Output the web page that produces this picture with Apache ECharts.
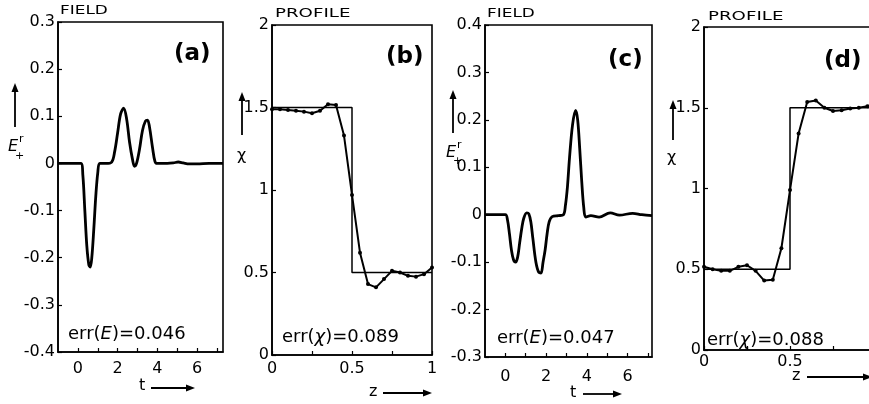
<!DOCTYPE html>
<html><head><meta charset="utf-8">
<script src="https://cdn.jsdelivr.net/npm/echarts@6/dist/echarts.min.js"></script>
<style>html,body{margin:0;padding:0;background:#fff}#c{width:869px;height:404px}</style>
</head><body><div id="c"></div>
<script>
// Panel (a): reflected field vs time
const tA = [-1, 0.15, 0.25, 0.35, 0.45, 0.55, 0.62, 0.7, 0.8, 0.9, 1.0, 1.1, 1.4, 1.7, 1.85, 2.0, 2.15, 2.3, 2.45, 2.6, 2.75, 2.85, 2.95, 3.1, 3.25, 3.4, 3.5, 3.6, 3.75, 3.88, 4.0, 4.5, 4.8, 5.05, 5.3, 5.6, 6.0, 6.6, 7.3];
const eA = [0, 0, -0.025, -0.1, -0.175, -0.215, -0.22, -0.2, -0.14, -0.07, -0.02, 0, 0, 0.003, 0.025, 0.065, 0.105, 0.117, 0.095, 0.045, 0.008, -0.006, 0, 0.03, 0.07, 0.09, 0.092, 0.078, 0.035, 0.004, 0, 0, 0.001, 0.003, 0.001, -0.001, -0.001, 0, 0];
// Panel (c): reflected field vs time
const tC = [-1, 0, 0.1, 0.2, 0.3, 0.4, 0.5, 0.6, 0.7, 0.8, 0.9, 1.05, 1.15, 1.25, 1.35, 1.5, 1.65, 1.75, 1.85, 1.95, 2.05, 2.15, 2.3, 2.6, 2.85, 2.95, 3.05, 3.15, 3.3, 3.45, 3.55, 3.65, 3.75, 3.85, 3.95, 4.2, 4.6, 5.15, 5.6, 6.25, 6.7, 7.2];
const eC = [0, 0, -0.01, -0.04, -0.075, -0.095, -0.1, -0.09, -0.06, -0.03, -0.008, 0.004, 0.002, -0.015, -0.05, -0.1, -0.122, -0.123, -0.1, -0.075, -0.04, -0.015, -0.004, -0.002, 0, 0.02, 0.06, 0.12, 0.19, 0.22, 0.2, 0.14, 0.07, 0.015, -0.005, -0.002, -0.005, 0.004, -0.001, 0.003, 0, -0.002];
// Profiles: reconstructed chi at sample depths z
const zProf = [0, 0.05, 0.1, 0.15, 0.2, 0.25, 0.3, 0.35, 0.4, 0.45, 0.5, 0.55, 0.6, 0.65, 0.7, 0.75, 0.8, 0.85, 0.9, 0.95, 1.0];
const chiB = [1.49, 1.49, 1.485, 1.48, 1.475, 1.465, 1.48, 1.52, 1.515, 1.33, 0.97, 0.62, 0.43, 0.41, 0.46, 0.51, 0.5, 0.48, 0.475, 0.49, 0.53];
const chiD = [0.515, 0.5, 0.49, 0.49, 0.515, 0.525, 0.49, 0.43, 0.435, 0.63, 0.99, 1.34, 1.535, 1.545, 1.5, 1.48, 1.485, 1.495, 1.5, 1.51, 1.52];
// True step profiles
const stepZ = [0, 0.5, 0.5, 1];
const stepChiB = [1.5, 1.5, 0.5, 0.5];
const stepChiD = [0.5, 0.5, 1.5, 1.5];
// Tick values / labels
const tTicks = [0, 1, 2, 3, 4, 5, 6, 7];
const tLabels = [0, 2, 4, 6];
const yTicksA = [-0.4, -0.3, -0.2, -0.1, 0, 0.1, 0.2, 0.3];
const yTicksC = [-0.3, -0.2, -0.1, 0, 0.1, 0.2, 0.3, 0.4];
const zTicks = [0, 0.25, 0.5, 0.75, 1];
const zLabels = [0, 0.5, 1];
const chiTicks = [0, 0.5, 1, 1.5, 2];
const panelTitles = ['FIELD', 'PROFILE', 'FIELD', 'PROFILE'];
const panelTags = ['(a)', '(b)', '(c)', '(d)'];
const errTexts = [['E', '0.046'], ['χ', '0.089'], ['E', '0.047'], ['χ', '0.088']];

const FONT = 'DejaVu Sans';
const zip = (a, b) => a.map((v, i) => [v, b[i]]);

function xAx(g, min, max, ticks, labels, margin) {
  return {type: 'value', gridIndex: g, min, max,
    axisLine: {show: true, onZero: false, lineStyle: {color: '#000', width: 1.6}},
    axisTick: {show: true, inside: true, length: 4, customValues: ticks, lineStyle: {color: '#000', width: 1.2}},
    axisLabel: {customValues: labels, color: '#000', fontSize: 16, fontFamily: FONT, margin: margin},
    splitLine: {show: false}};
}
function yAx(g, min, max, ticks) {
  return {type: 'value', gridIndex: g, min, max,
    axisLine: {show: true, onZero: false, lineStyle: {color: '#000', width: 1.6}},
    axisTick: {show: true, inside: true, length: 4, customValues: ticks, lineStyle: {color: '#000', width: 1.2}},
    axisLabel: {customValues: ticks, color: '#000', fontSize: 16, fontFamily: FONT, margin: 3},
    splitLine: {show: false}};
}
const gridStyle = {show: true, borderColor: '#000', borderWidth: 1.6, backgroundColor: 'transparent', containLabel: false, outerBoundsMode: 'none'};

function arrow(x1, y1, x2, y2) {
  const dx = x2 - x1, dy = y2 - y1, L = Math.hypot(dx, dy);
  const ux = dx / L, uy = dy / L, hl = 9, hw = 3.5;
  const bx = x2 - ux * hl, by = y2 - uy * hl;
  return [
    {type: 'line', shape: {x1, y1, x2: bx, y2: by}, style: {stroke: '#000', lineWidth: 1.8}},
    {type: 'polygon', shape: {points: [[x2, y2], [bx - uy * hw, by + ux * hw], [bx + uy * hw, by - ux * hw]]}, style: {fill: '#000'}}
  ];
}
function txt(x, y, text, size, extra, sx) {
  const el = {type: 'text', x, y, style: Object.assign({text, fontSize: size, fontFamily: FONT, fill: '#000', verticalAlign: 'middle'}, extra || {})};
  if (sx) el.scaleX = sx;
  return el;
}
function errTxt(x, y, sym, val) {
  return {type: 'text', x, y, style: {
    text: '{n|err(}{i|' + sym + '}{n|)=' + val + '}',
    verticalAlign: 'middle',
    rich: {n: {fontSize: 18, fontFamily: FONT, fill: '#000'}, i: {fontSize: 18, fontFamily: FONT, fontStyle: 'italic', fill: '#000'}}
  }};
}

const grids = [
  Object.assign({left: 58, top: 22, width: 165, height: 330}, gridStyle),
  Object.assign({left: 272, top: 25, width: 160, height: 330}, gridStyle),
  Object.assign({left: 485, top: 25, width: 167, height: 332}, gridStyle),
  Object.assign({left: 704, top: 27, width: 172, height: 323}, gridStyle)
];

const lineS = (g, data, smooth) => ({type: 'line', xAxisIndex: g, yAxisIndex: g, data, smooth: smooth,
  showSymbol: false, lineStyle: {color: '#000', width: 2.8}, silent: true, animation: false});
const dotS = (g, data) => ({type: 'line', xAxisIndex: g, yAxisIndex: g, data, smooth: false,
  showSymbol: true, symbol: 'circle', symbolSize: 4, itemStyle: {color: '#000'}, lineStyle: {color: '#000', width: 2}, silent: true, animation: false});
const stepS = (g, data) => ({type: 'line', xAxisIndex: g, yAxisIndex: g, data, showSymbol: false,
  lineStyle: {color: '#000', width: 1.5}, silent: true, animation: false});

let graphics = [];
graphics.push(txt(60, 11, panelTitles[0], 13, null, 1.3));
graphics.push(txt(275, 14, panelTitles[1], 13, null, 1.4));
graphics.push(txt(487, 14, panelTitles[2], 13, null, 1.3));
graphics.push(txt(708, 17, panelTitles[3], 13, null, 1.4));
graphics.push(txt(174, 54, panelTags[0], 23, {fontWeight: 'bold'}));
graphics.push(txt(386, 57, panelTags[1], 23, {fontWeight: 'bold'}));
graphics.push(txt(608, 60, panelTags[2], 23, {fontWeight: 'bold'}));
graphics.push(txt(824, 61, panelTags[3], 23, {fontWeight: 'bold'}));
graphics.push(errTxt(68, 334, errTexts[0][0], errTexts[0][1]));
graphics.push(errTxt(282, 337, errTexts[1][0], errTexts[1][1]));
graphics.push(errTxt(497, 338, errTexts[2][0], errTexts[2][1]));
graphics.push(errTxt(707, 340, errTexts[3][0], errTexts[3][1]));
// y-axis names
graphics = graphics.concat(arrow(15, 127, 15, 83));
graphics.push(txt(8, 147, 'E', 16, {fontStyle: 'italic'}));
graphics.push(txt(19, 139, 'r', 11));
graphics.push(txt(15, 156, '+', 11));
graphics = graphics.concat(arrow(242, 135, 242, 92));
graphics.push(txt(237, 156, 'χ', 16));
graphics = graphics.concat(arrow(453, 133, 453, 90));
graphics.push(txt(446, 153, 'E', 16, {fontStyle: 'italic'}));
graphics.push(txt(457, 145, 'r', 11));
graphics.push(txt(453, 161, '+', 11));
graphics = graphics.concat(arrow(673, 140, 673, 100));
graphics.push(txt(667, 158, 'χ', 16));
// x-axis names
graphics.push(txt(139, 386, 't', 16));
graphics = graphics.concat(arrow(151, 388, 195, 388));
graphics.push(txt(369, 392, 'z', 16));
graphics = graphics.concat(arrow(383, 393, 432, 393));
graphics.push(txt(570, 393, 't', 16));
graphics = graphics.concat(arrow(583, 394, 622, 394));
graphics.push(txt(792, 376, 'z', 16));
graphics = graphics.concat(arrow(807, 377, 872, 377));

const option = {
  animation: false,
  backgroundColor: '#fff',
  grid: grids,
  xAxis: [
    xAx(0, -1, 7.3, tTicks, tLabels, 9),
    xAx(1, 0, 1, zTicks, zLabels, 6),
    xAx(2, -1, 7.2, tTicks, tLabels, 12),
    xAx(3, 0, 1, zTicks, zLabels, 4)
  ],
  yAxis: [
    yAx(0, -0.4, 0.3, yTicksA),
    yAx(1, 0, 2, chiTicks),
    yAx(2, -0.3, 0.4, yTicksC),
    yAx(3, 0, 2, chiTicks)
  ],
  series: [
    lineS(0, zip(tA, eA), 0.35),
    stepS(1, zip(stepZ, stepChiB)),
    dotS(1, zip(zProf, chiB)),
    lineS(2, zip(tC, eC), 0.35),
    stepS(3, zip(stepZ, stepChiD)),
    dotS(3, zip(zProf, chiD))
  ],
  graphic: graphics
};
const chart = echarts.init(document.getElementById('c'), null, {renderer: 'canvas'});
chart.setOption(option);
</script>
</body></html>
